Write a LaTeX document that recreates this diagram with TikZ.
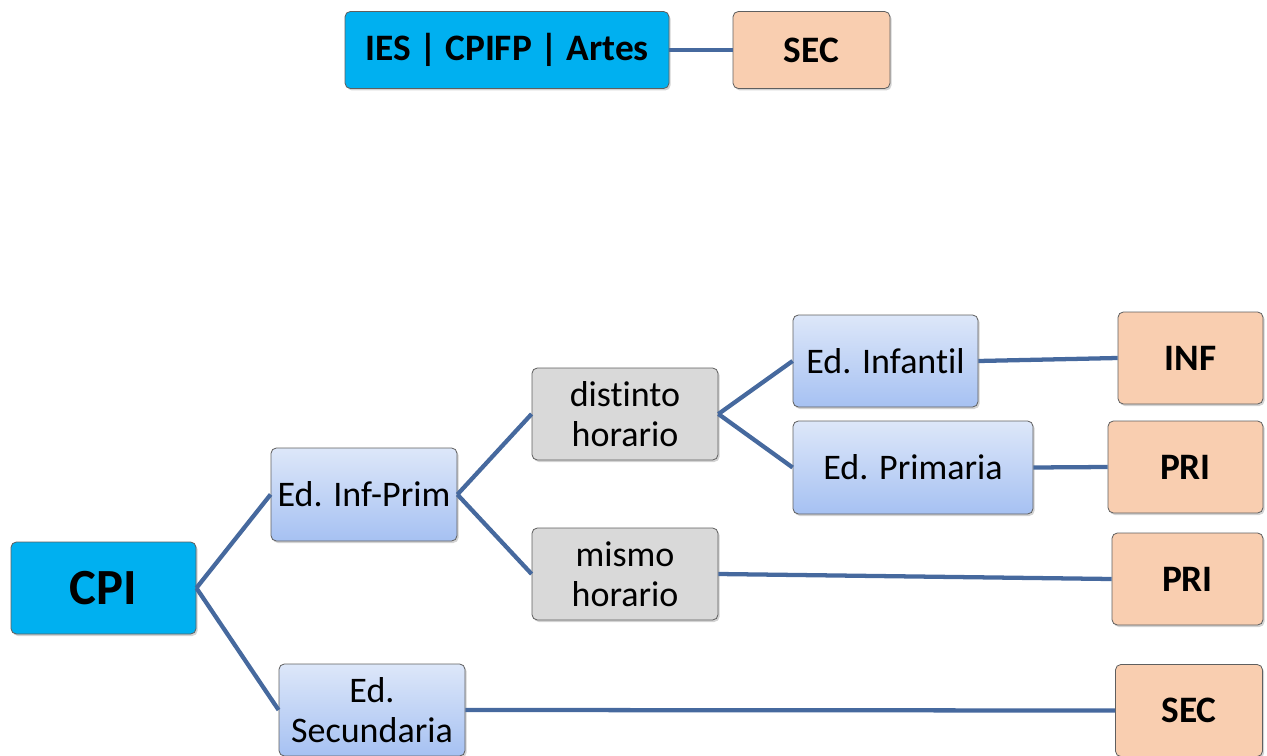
\documentclass[tikz,border=0pt]{standalone}
\usepackage{fontspec}
\setmainfont[Ligatures=NoCommon]{Carlito}
\usetikzlibrary{shadows}

\definecolor{cpicyan}{HTML}{00B0F0}
\definecolor{codepeach}{HTML}{F9CEB0}
\definecolor{horgray}{HTML}{D9D9D9}
\definecolor{levtop}{HTML}{DDE7F9}
\definecolor{levbot}{HTML}{A6C1F2}
\definecolor{linkblue}{HTML}{46699E}
\definecolor{boxline}{HTML}{5F5F5F}

\tikzset{every picture/.style={line width=0.75pt}}
\tikzset{
  box/.style={draw=boxline, line width=0.6pt, rounded corners=4pt, align=center, inner sep=0pt,
    drop shadow={shadow xshift=1.2pt, shadow yshift=-1.5pt, opacity=0.35}},
  mainbox/.style={box, fill=cpicyan, font=\bfseries\fontsize{28}{30}\selectfont},
  levelbox/.style={box, top color=levtop, bottom color=levbot, font=\fontsize{27}{30}\selectfont},
  horbox/.style={box, fill=horgray, font=\fontsize{27}{30}\selectfont},
  codebox/.style={box, fill=codepeach, font=\bfseries\fontsize{28}{30}\selectfont},
  link/.style={draw=linkblue, line width=3.2pt}
}

\begin{document}
\begin{tikzpicture}[x=0.75pt,y=0.75pt,yscale=-1,xscale=1]
		\useasboundingbox (0,0) rectangle (1267,756);
		
		%top row
		\node [mainbox, minimum width=243pt, minimum height=57.75pt] (ies) at (507,50) {IES | CPIFP | Artes};
		\node [codebox, minimum width=117.75pt, minimum height=57.75pt] (sectop) at (811.5,50) {SEC};
		
		%tree
		\node [mainbox, minimum width=138.75pt, minimum height=69pt, font=\bfseries\fontsize{38}{40}\selectfont] (cpi) at (103.5,588) {CPI};
		\node [levelbox, minimum width=139.5pt, minimum height=69.75pt] (infprim) at (364,494.5) {Ed. Inf-Prim};
		\node [levelbox, minimum width=139.5pt, minimum height=69pt] (secund) at (372,710) {Ed.\\Secundaria};
		\node [horbox, minimum width=139.5pt, minimum height=69pt] (distinto) at (625,414) {distinto\\horario};
		\node [horbox, minimum width=139.5pt, minimum height=69pt] (mismo) at (625,574) {mismo\\horario};
		\node [levelbox, minimum width=138.75pt, minimum height=69pt] (infantil) at (885.5,361) {Ed. Infantil};
		\node [levelbox, minimum width=180pt, minimum height=69.75pt] (primaria) at (913,467.5) {Ed. Primaria};
		
		\node [codebox, minimum width=108.75pt, minimum height=69pt] (inf) at (1190.5,358) {INF};
		\node [codebox, minimum width=116.25pt, minimum height=69pt] (pria) at (1185.5,467) {PRI};
		\node [codebox, minimum width=113.25pt, minimum height=69pt] (prib) at (1187.5,579) {PRI};
		\node [codebox, minimum width=110.25pt, minimum height=69pt] (secb) at (1189,710.5) {SEC};
		
		%connectors
		\draw [link] (ies.east) -- (sectop.west);
		\draw [link] (cpi.east) -- (infprim.west);
		\draw [link] (cpi.east) -- (secund.west);
		\draw [link] (infprim.east) -- (distinto.west);
		\draw [link] (infprim.east) -- (mismo.west);
		\draw [link] (distinto.east) -- (infantil.west);
		\draw [link] (distinto.east) -- (primaria.west);
		\draw [link] (infantil.east) -- (inf.west);
		\draw [link] (primaria.east) -- (pria.west);
		\draw [link] (mismo.east) -- (prib.west);
		\draw [link] (secund.east) -- (secb.west);
		
	\end{tikzpicture}
\end{document}
